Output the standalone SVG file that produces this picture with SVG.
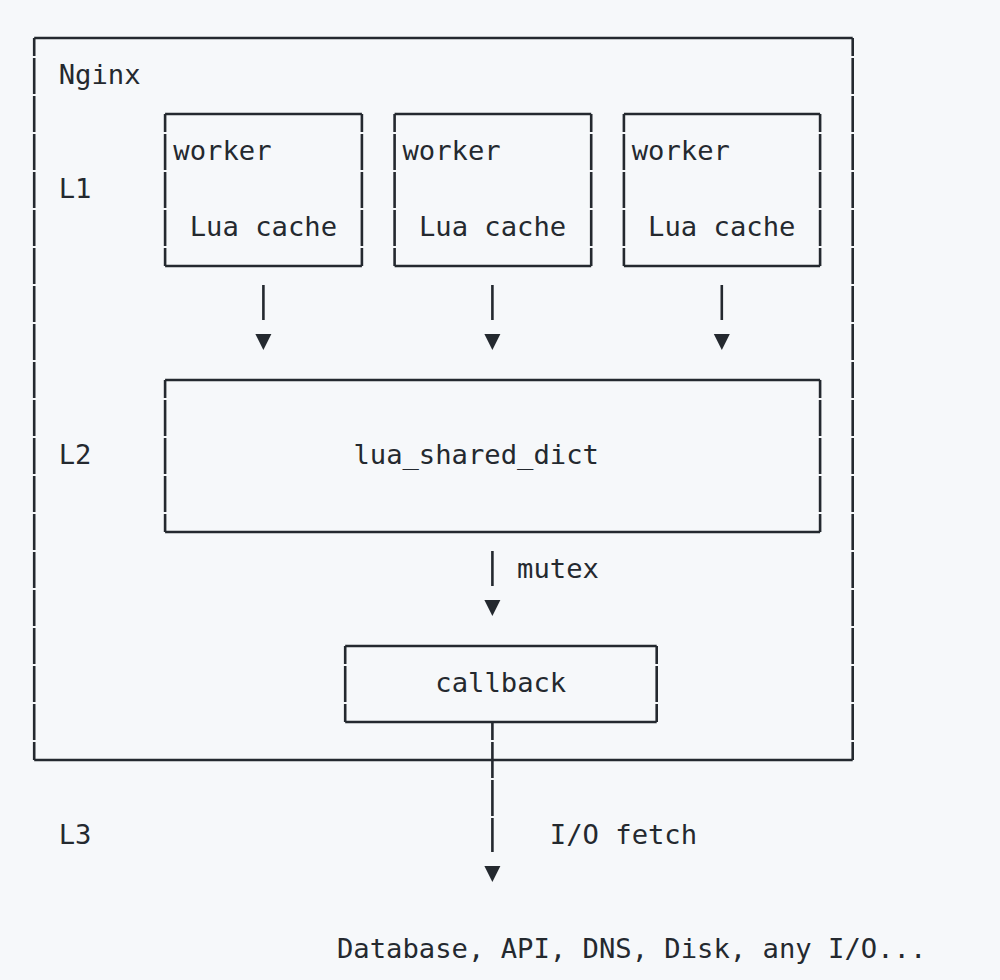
<svg xmlns="http://www.w3.org/2000/svg" width="1000" height="980" viewBox="0 0 1000 980">
  <style>
    text { font-family: "DejaVu Sans Mono", "Liberation Mono", monospace; font-size: 27.2px; fill: #24292f; }
    .h { fill: none; stroke: #24292f; stroke-width: 2.6; }
    .v { fill: none; stroke: #24292f; stroke-width: 2.6; stroke-dasharray: 36 2; stroke-dashoffset: 18; }
    .stem { fill: none; stroke: #24292f; stroke-width: 2.6; }
    .tri { fill: #24292f; }
  </style>
  <rect width="1000" height="980" fill="#f6f8fa"/>

  <g id="nginx">
    <path class="h" d="M34.2 38 H852.7 M34.2 760 H852.7"/>
    <path class="v" d="M34.2 38 V760 M852.7 38 V760"/>
    <text x="58.7" y="84">Nginx</text>
  </g>

  <g id="labels">
    <text x="58.7" y="198">L1</text>
    <text x="58.7" y="464">L2</text>
    <text x="58.7" y="844">L3</text>
  </g>

  <g id="worker1">
    <path class="h" d="M165.1 114 H361.9 M165.1 266 H361.9"/>
    <path class="v" d="M165.1 114 V266 M361.9 114 V266"/>
    <text x="173.3" y="160">worker</text>
    <text x="189.7" y="236">Lua cache</text>
  </g>

  <g id="worker2">
    <path class="h" d="M394.6 114 H591.2 M394.6 266 H591.2"/>
    <path class="v" d="M394.6 114 V266 M591.2 114 V266"/>
    <text x="402.5" y="160">worker</text>
    <text x="418.9" y="236">Lua cache</text>
  </g>

  <g id="worker3">
    <path class="h" d="M623.9 114 H820.1 M623.9 266 H820.1"/>
    <path class="v" d="M623.9 114 V266 M820.1 114 V266"/>
    <text x="631.7" y="160">worker</text>
    <text x="648.1" y="236">Lua cache</text>
  </g>

  <g id="shared_dict">
    <path class="h" d="M165.1 380 H820.1 M165.1 532 H820.1"/>
    <path class="v" d="M165.1 380 V532 M820.1 380 V532"/>
    <text x="353.4" y="464">lua_shared_dict</text>
  </g>

  <g id="callback">
    <path class="h" d="M345.2 646 H656.7 M345.2 722 H656.7"/>
    <path class="v" d="M345.2 646 V722 M656.7 646 V722"/>
    <text x="435.3" y="692">callback</text>
  </g>

  <g id="io">
    <text x="337" y="958">Database, API, DNS, Disk, any I/O...</text>
  </g>

  <g id="connectors">
    <path class="stem" d="M263.4 285 V320 M492.4 285 V320 M721.8 285 V320"/>
    <polygon class="tri" points="255.4,334 271.4,334 263.4,350"/>
    <polygon class="tri" points="484.4,334 500.4,334 492.4,350"/>
    <polygon class="tri" points="713.8,334 729.8,334 721.8,350"/>

    <path class="stem" d="M492.4 551 V586"/>
    <polygon class="tri" points="484.4,600 500.4,600 492.4,616"/>
    <text x="517.1" y="578">mutex</text>

    <path class="v" d="M492.4 722 V852"/>
    <polygon class="tri" points="484.4,866 500.4,866 492.4,882"/>
    <text x="549.8" y="844">I/O fetch</text>
  </g>
</svg>
